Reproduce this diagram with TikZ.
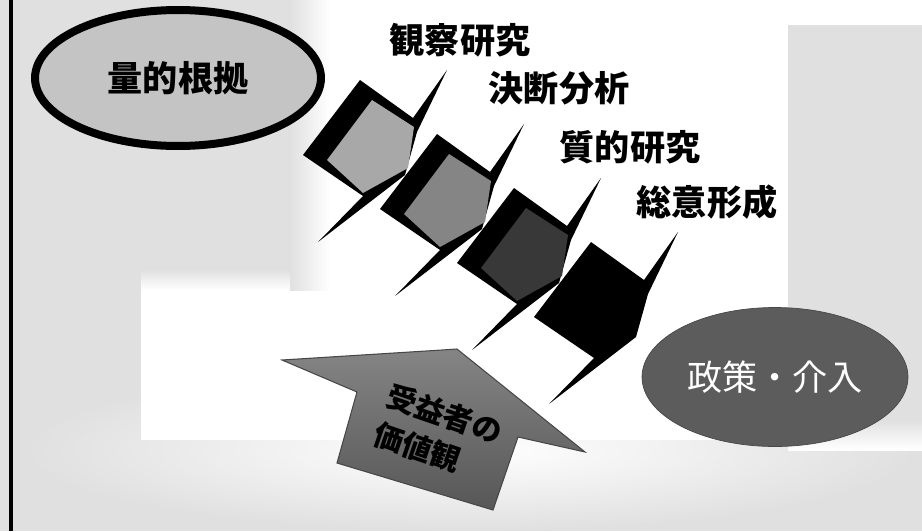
\documentclass[tikz,border=0pt]{standalone}
\usepackage{fontspec}
\newfontfamily\cjk{Noto Sans CJK JP}
\usetikzlibrary{shapes.geometric}

\tikzset{
  bubble/.style={ellipse, minimum width=5.72cm, minimum height=2.72cm, inner sep=0pt,
    font=\cjk\bfseries\fontsize{20}{24}\selectfont},
  steplabel/.style={font=\cjk\bfseries\fontsize{20}{24}\selectfont, inner sep=0pt},
  valuelabel/.style={font=\cjk\bfseries\fontsize{17}{23}\selectfont, inner sep=0pt, align=left, rotate=-19},
}

\begin{document}
\begin{tikzpicture}[x=0.02cm, y=-0.02cm]
                    \useasboundingbox (0,0) rectangle (922,531);

                    % background and light platform
                    \fill[black!12] (0,0) rectangle (922,531);
                    \shade[inner color=white, outer color=black!12] (470,450) ellipse [x radius=440, y radius=80];
                    \fill[white] (141,290) rectangle (788,440);
                    \fill[white] (330,0) rectangle (788,290);
                    \shade[left color=black!12, right color=white] (290,0) rectangle (330,290);
                    \shade[top color=black!12, bottom color=white] (141,270) rectangle (290,290);
                    \fill[white] (788,0) rectangle (922,25);
                    \shade[top color=black!12, bottom color=white] (788,420) rectangle (922,450);
                    \draw[line width=0.08cm] (11,0) -- (11,531);

                    % the two end points
                    \node[bubble, fill=black!23, draw=black, line width=0.16cm] (quant) at (178,78) {量的根拠};
                    \node[bubble, fill=black!64, draw=black!72, text=white, font=\cjk\fontsize{20}{24}\selectfont,
                      minimum width=5.32cm, minimum height=2.78cm] (policy) at (775,377) {政策・介入};

                    % steps
                    \begin{scope}[shift={(0,0)}]
                		\fill[black] (360,80) -- (413,118) -- (447,70) -- (417,132) -- (405,175) -- (318,242) -- (363,196) -- (303,155) -- cycle;
                		\fill[black!34] (372,100) -- (414,127) -- (408,168) -- (363,193) -- (327,160) -- cycle;
                    \end{scope}
                    \begin{scope}[shift={(77,54)}]
                		\fill[black] (360,80) -- (413,118) -- (447,70) -- (417,132) -- (405,175) -- (318,242) -- (363,196) -- (303,155) -- cycle;
                		\fill[black!48] (372,100) -- (414,127) -- (408,168) -- (363,193) -- (327,160) -- cycle;
                    \end{scope}
                    \begin{scope}[shift={(154,108)}]
                		\fill[black] (360,80) -- (413,118) -- (447,70) -- (417,132) -- (405,175) -- (318,242) -- (363,196) -- (303,155) -- cycle;
                		\fill[black!78] (372,100) -- (414,127) -- (408,168) -- (363,193) -- (327,160) -- cycle;
                    \end{scope}
                    \begin{scope}[shift={(231,162)}]
                		\fill[black] (360,80) -- (413,118) -- (447,70) -- (417,132) -- (405,175) -- (318,242) -- (363,196) -- (303,155) -- cycle;
                    \end{scope}

                    \node[steplabel] (obs) at (460,40) {観察研究};
                    \node[steplabel] (dec) at (559,88) {決断分析};
                    \node[steplabel] (qual) at (630,147) {質的研究};
                    \node[steplabel] (cons) at (707,202) {総意形成};

                    % arrow from below
                    \shade[top color=black!48, bottom color=black!66, draw=black!72, line width=0.6pt]
                      (282,360) -- (442,350) -- (457,349) -- (585,452) -- (518,437) -- (493,510) -- (337,463) -- (357,392) -- cycle;
                    \node[valuelabel] (values) at (438,433) {受益者の\\価値観};
                \end{tikzpicture}
\end{document}
